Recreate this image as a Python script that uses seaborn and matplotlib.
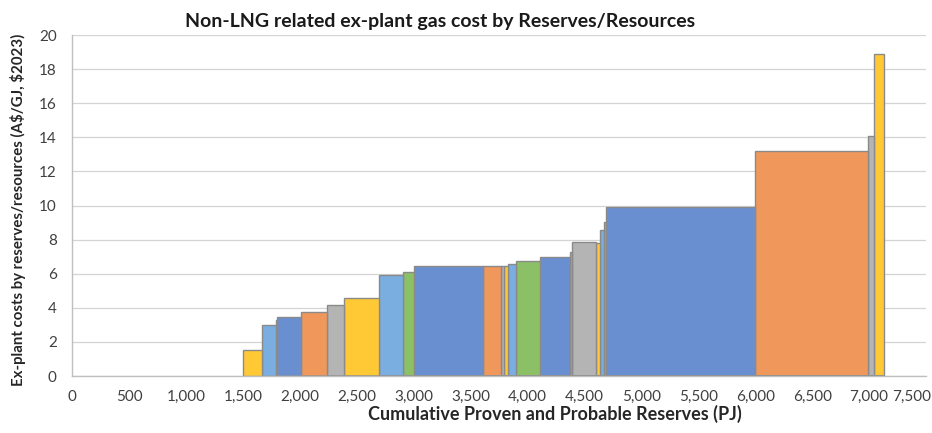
import matplotlib
matplotlib.use("Agg")
import matplotlib.pyplot as plt
from matplotlib.ticker import FuncFormatter, MultipleLocator
from matplotlib.transforms import ScaledTranslation
import numpy as np
import pandas as pd
import seaborn as sns

# Cumulative reserve boundaries (PJ) for each field block, and its ex-plant cost
edges_pj = [1500, 1665, 1790, 1800, 2010, 2240, 2390, 2695, 2910, 3000,
            3605, 3765, 3790, 3825, 3895, 4110, 4375, 4395, 4600, 4640,
            4675, 4690, 6000, 6990, 7040, 7130]
cost_aud_gj = [1.5, 3.0, 3.3, 3.45, 3.75, 4.15, 4.6, 5.9, 6.1, 6.45,
               6.45, 6.45, 6.45, 6.55, 6.75, 7.0, 7.3, 7.85, 7.8, 8.55,
               9.05, 9.9, 13.2, 14.1, 18.9]
x_ticks = list(range(0, 7501, 500))

# Office-style series colours, cycling from gold
palette_cycle = ["#6a8fd0", "#f0975b", "#b4b4b4", "#ffc935", "#7aaee0", "#8bc066"]
block_colours = [palette_cycle[(i + 3) % 6] for i in range(len(cost_aud_gj))]

title = "Non-LNG related ex-plant gas cost by Reserves/Resources"
x_title = "Cumulative Proven and Probable Reserves (PJ)"
y_title = r"Ex-plant costs by reserves/resources (A\$/GJ, \$2023)"

sns.set_theme(style="white")
plt.rcParams["font.family"] = ["Lato", "Liberation Sans", "DejaVu Sans"]

left = np.array(edges_pj[:-1], dtype=float)
right = np.array(edges_pj[1:], dtype=float)
df = pd.DataFrame({
    "mid": (left + right) / 2,
    "cost": cost_aud_gj,
    "block": [f"b{i}" for i in range(len(cost_aud_gj))],
})

fig = plt.figure(figsize=(9.32, 4.33), dpi=100)
ax = fig.add_axes([0.0773, 0.1316, 0.9163, 0.7875])

ax.yaxis.grid(True, color="#d4d4d4", linewidth=0.9)
ax.set_axisbelow(True)

sns.histplot(data=df, x="mid", weights="cost", hue="block", bins=edges_pj,
             palette=dict(zip(df["block"], block_colours)), multiple="layer",
             alpha=1, edgecolor="#8a8a8a", linewidth=1.0, legend=False, ax=ax)

ax.set_xlim(0, 7500)
ax.set_ylim(0, 20)
ax.set_xticks(x_ticks)
ax.yaxis.set_major_locator(MultipleLocator(2))
ax.xaxis.set_major_formatter(FuncFormatter(lambda v, p: f"{int(v):,}"))
ax.set_xlabel("")
ax.set_ylabel("")

for side in ["top", "right"]:
    ax.spines[side].set_visible(False)
for side in ["left", "bottom"]:
    ax.spines[side].set_color("#bfbfbf")
    ax.spines[side].set_linewidth(1.0)
ax.tick_params(axis="both", which="major", direction="out", length=5,
               width=1.0, color="#bfbfbf", labelcolor="#404040")
ax.tick_params(axis="x", labelsize=11, pad=5)
ax.tick_params(axis="y", labelsize=11, pad=6)

# keep the last x tick label inside the figure
last_label = ax.xaxis.get_major_ticks(len(x_ticks))[-1].label1
last_label.set_horizontalalignment("right")
last_label.set_transform(last_label.get_transform()
                         + ScaledTranslation(5 / 100, 0, fig.dpi_scale_trans))

fig.text(440 / 932, 1 - 22 / 433, title, ha="center", va="center",
         fontsize=14, fontweight="bold", color="#1a1a1a")
fig.text(555 / 932, 1 - 414 / 433, x_title, ha="center", va="center",
         fontsize=13, fontweight="bold", color="#262626")
fig.text(18 / 932, 1 - 210 / 433, y_title, ha="center", va="center",
         rotation=90, fontsize=10.8, fontweight="bold", color="#262626")

fig.savefig("out.png", dpi=100)
